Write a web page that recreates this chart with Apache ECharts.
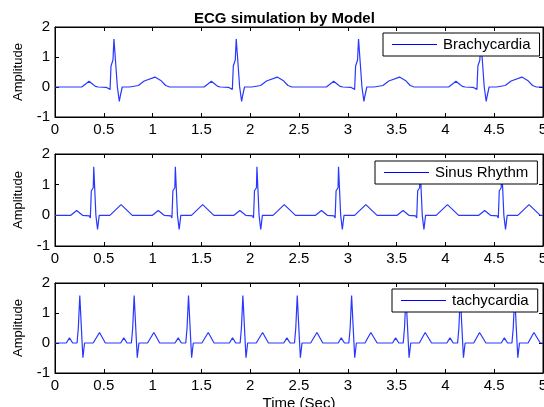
<!DOCTYPE html>
<html>
<head>
<meta charset="utf-8">
<script src="https://cdn.jsdelivr.net/npm/echarts@6/dist/echarts.min.js"></script>
<style>
html,body{margin:0;padding:0;background:#fff;}
#chart{width:544px;height:407px;}
</style>
</head>
<body>
<div id="chart"></div>
<script>
// ---- Data: [time (s), amplitude] ----
var chartTitle = 'ECG simulation by Model';
var seriesNames = ['Brachycardia', 'Sinus Rhythm', 'tachycardia'];
var xLabelName = 'Time (Sec)';
var yLabelName = 'Amplitude';
var xRange = [0, 5];
var xStep = 0.5;
var yRange = [-1, 2];
var yStep = 1;

var brachyData = [
  [0,0],
  [0.274,0],[0.314,0.10],[0.349,0.19],[0.384,0.10],[0.414,0.02],[0.444,0],[0.524,-0.01],[0.544,0.03],[0.564,-0.08],
  [0.574,0.7],[0.594,0.9],[0.604,1.6],[0.619,1.6],[0.639,0],[0.659,-0.48],[0.669,-0.3],[0.689,0],[0.764,0],
  [0.854,0.05],[0.914,0.2],[1.024,0.33],[1.084,0.22],[1.134,0.05],[1.174,0],
  [1.527,0],[1.567,0.10],[1.602,0.19],[1.637,0.10],[1.667,0.02],[1.697,0],[1.777,-0.01],[1.797,0.03],[1.817,-0.08],
  [1.827,0.7],[1.847,0.9],[1.857,1.6],[1.872,1.6],[1.892,0],[1.912,-0.48],[1.922,-0.3],[1.942,0],[2.017,0],
  [2.107,0.05],[2.167,0.2],[2.277,0.33],[2.337,0.22],[2.387,0.05],[2.427,0],
  [2.78,0],[2.82,0.10],[2.855,0.19],[2.89,0.10],[2.92,0.02],[2.95,0],[3.03,-0.01],[3.05,0.03],[3.07,-0.08],
  [3.08,0.7],[3.10,0.9],[3.11,1.6],[3.125,1.6],[3.145,0],[3.165,-0.48],[3.175,-0.3],[3.195,0],[3.27,0],
  [3.36,0.05],[3.42,0.2],[3.53,0.33],[3.59,0.22],[3.64,0.05],[3.68,0],
  [4.033,0],[4.073,0.10],[4.108,0.19],[4.143,0.10],[4.173,0.02],[4.203,0],[4.283,-0.01],[4.303,0.03],[4.323,-0.08],
  [4.333,0.7],[4.353,0.9],[4.363,1.6],[4.378,1.6],[4.398,0],[4.418,-0.48],[4.428,-0.3],[4.448,0],[4.523,0],
  [4.613,0.05],[4.673,0.2],[4.783,0.33],[4.843,0.22],[4.893,0.05],[4.933,0],
  [5,0]
];

var sinusData = [
  [0,0],
  [0.162,0],[0.222,0.16],[0.282,0],[0.292,-0.02],[0.352,-0.02],[0.362,-0.09],[0.372,0.8],[0.392,0.9],[0.397,1.58],[0.407,1.58],
  [0.419,0],[0.436,-0.46],[0.453,0],[0.562,0],[0.677,0.35],[0.792,0],
  [0.998,0],[1.058,0.16],[1.118,0],[1.128,-0.02],[1.188,-0.02],[1.198,-0.09],[1.208,0.8],[1.228,0.9],[1.233,1.58],[1.243,1.58],
  [1.255,0],[1.272,-0.46],[1.289,0],[1.398,0],[1.513,0.35],[1.628,0],
  [1.834,0],[1.894,0.16],[1.954,0],[1.964,-0.02],[2.024,-0.02],[2.034,-0.09],[2.044,0.8],[2.064,0.9],[2.069,1.58],[2.079,1.58],
  [2.091,0],[2.108,-0.46],[2.125,0],[2.234,0],[2.349,0.35],[2.464,0],
  [2.67,0],[2.73,0.16],[2.79,0],[2.80,-0.02],[2.86,-0.02],[2.87,-0.09],[2.88,0.8],[2.90,0.9],[2.905,1.58],[2.915,1.58],
  [2.927,0],[2.944,-0.46],[2.961,0],[3.07,0],[3.185,0.35],[3.30,0],
  [3.506,0],[3.566,0.16],[3.626,0],[3.636,-0.02],[3.696,-0.02],[3.706,-0.09],[3.716,0.8],[3.736,0.9],[3.741,1.58],[3.751,1.58],
  [3.763,0],[3.78,-0.46],[3.797,0],[3.906,0],[4.021,0.35],[4.136,0],
  [4.342,0],[4.402,0.16],[4.462,0],[4.472,-0.02],[4.532,-0.02],[4.542,-0.09],[4.552,0.8],[4.572,0.9],[4.577,1.58],[4.587,1.58],
  [4.599,0],[4.616,-0.46],[4.633,0],[4.742,0],[4.857,0.35],[4.972,0],
  [5,0]
];

var tachyData = [
  [0,0],
  [0.116,0],[0.148,0.17],[0.181,0],[0.226,0],[0.233,-0.06],[0.239,0.5],[0.249,0.55],[0.254,1.58],[0.269,1.58],
  [0.278,0],[0.286,-0.49],[0.296,-0.2],[0.303,0],[0.391,0],[0.456,0.35],[0.516,0],
  [0.673,0],[0.705,0.17],[0.738,0],[0.783,0],[0.79,-0.06],[0.796,0.5],[0.806,0.55],[0.811,1.58],[0.826,1.58],
  [0.835,0],[0.843,-0.49],[0.853,-0.2],[0.86,0],[0.948,0],[1.013,0.35],[1.073,0],
  [1.23,0],[1.262,0.17],[1.295,0],[1.34,0],[1.347,-0.06],[1.353,0.5],[1.363,0.55],[1.368,1.58],[1.383,1.58],
  [1.392,0],[1.40,-0.49],[1.41,-0.2],[1.417,0],[1.505,0],[1.57,0.35],[1.63,0],
  [1.787,0],[1.819,0.17],[1.852,0],[1.897,0],[1.904,-0.06],[1.91,0.5],[1.92,0.55],[1.925,1.58],[1.94,1.58],
  [1.949,0],[1.957,-0.49],[1.967,-0.2],[1.974,0],[2.062,0],[2.127,0.35],[2.187,0],
  [2.344,0],[2.376,0.17],[2.409,0],[2.454,0],[2.461,-0.06],[2.467,0.5],[2.477,0.55],[2.482,1.58],[2.497,1.58],
  [2.506,0],[2.514,-0.49],[2.524,-0.2],[2.531,0],[2.619,0],[2.684,0.35],[2.744,0],
  [2.901,0],[2.933,0.17],[2.966,0],[3.011,0],[3.018,-0.06],[3.024,0.5],[3.034,0.55],[3.039,1.58],[3.054,1.58],
  [3.063,0],[3.071,-0.49],[3.081,-0.2],[3.088,0],[3.176,0],[3.236,0.35],[3.301,0],
  [3.458,0],[3.49,0.17],[3.523,0],[3.568,0],[3.575,-0.06],[3.581,0.5],[3.591,0.55],[3.596,1.58],[3.611,1.58],
  [3.62,0],[3.628,-0.49],[3.638,-0.2],[3.645,0],[3.733,0],[3.793,0.35],[3.858,0],
  [4.015,0],[4.047,0.17],[4.08,0],[4.125,0],[4.132,-0.06],[4.138,0.5],[4.148,0.55],[4.153,1.58],[4.168,1.58],
  [4.177,0],[4.185,-0.49],[4.195,-0.2],[4.202,0],[4.29,0],[4.35,0.35],[4.415,0],
  [4.572,0],[4.604,0.17],[4.637,0],[4.682,0],[4.689,-0.06],[4.695,0.5],[4.705,0.55],[4.71,1.58],[4.725,1.58],
  [4.734,0],[4.742,-0.49],[4.752,-0.2],[4.759,0],[4.847,0],[4.907,0.35],[4.972,0],
  [5,0]
];

var allData = [brachyData, sinusData, tachyData];

// ---- Layout / style ----
var FONT = "'Liberation Sans', Arial, Helvetica, sans-serif";
var BLUE = '#0000ff';
var LINE_BLUE = '#2838ff';
var grids = [
  {left: 55, right: 1, top: 27, height: 90},
  {left: 55, right: 1, top: 154, height: 92},
  {left: 55, right: 1, top: 283, height: 90}
];
var legendPos = [
  {left: 383, top: 33},
  {left: 375, top: 161},
  {left: 392, top: 289}
];

var chart = echarts.init(document.getElementById('chart'), null, {renderer: 'canvas'});

var xAxes = [], yAxes = [], series = [], legends = [];
for (var i = 0; i < 3; i++) {
  xAxes.push({
    gridIndex: i, type: 'value', min: xRange[0], max: xRange[1], interval: xStep,
    position: 'bottom',
    axisLine: {show: true, onZero: false, lineStyle: {color: '#000', width: 1}},
    axisTick: {show: true, inside: true, length: 4, lineStyle: {color: '#000'}},
    axisLabel: {show: true, margin: 5, color: '#000', fontSize: 15, fontFamily: FONT},
    splitLine: {show: false},
    name: i === 2 ? xLabelName : '',
    nameLocation: 'middle', nameGap: 23,
    nameTextStyle: {color: '#000', fontSize: 15, fontFamily: FONT}
  });
  yAxes.push({
    gridIndex: i, type: 'value', min: yRange[0], max: yRange[1], interval: yStep,
    position: 'left',
    axisLine: {show: true, onZero: false, lineStyle: {color: '#000', width: 1}},
    axisTick: {show: true, inside: true, length: 4, lineStyle: {color: '#000'}},
    axisLabel: {show: true, margin: 5, color: '#000', fontSize: 15, fontFamily: FONT},
    splitLine: {show: false},
    name: yLabelName, nameLocation: 'middle', nameGap: 30, nameRotate: 90,
    nameTextStyle: {color: '#000', fontSize: 13, fontFamily: FONT}
  });
}
for (var j = 0; j < 3; j++) {
  xAxes.push({
    gridIndex: j, type: 'value', min: xRange[0], max: xRange[1], interval: xStep,
    position: 'top',
    axisLine: {show: true, onZero: false, lineStyle: {color: '#000', width: 1}},
    axisTick: {show: true, inside: true, length: 4, lineStyle: {color: '#000'}},
    axisLabel: {show: false}, splitLine: {show: false}
  });
  yAxes.push({
    gridIndex: j, type: 'value', min: yRange[0], max: yRange[1], interval: yStep,
    position: 'right',
    axisLine: {show: true, onZero: false, lineStyle: {color: '#000', width: 1}},
    axisTick: {show: true, inside: true, length: 4, lineStyle: {color: '#000'}},
    axisLabel: {show: false}, splitLine: {show: false}
  });
}
for (var k = 0; k < 3; k++) {
  series.push({
    name: seriesNames[k], type: 'line', xAxisIndex: k, yAxisIndex: k,
    data: allData[k], showSymbol: false, symbol: 'none', smooth: false,
    itemStyle: {color: BLUE},
    lineStyle: {color: LINE_BLUE, width: 1.2},
    silent: true
  });
  legends.push({
    show: true, left: legendPos[k].left, top: legendPos[k].top,
    orient: 'horizontal',
    data: [{name: seriesNames[k], icon: 'rect', itemStyle: {color: BLUE}}],
    itemWidth: 45, itemHeight: 1, itemGap: 0,
    padding: [4, 9, 4, 9],
    backgroundColor: '#fff', borderColor: '#000', borderWidth: 1, borderRadius: 0,
    selectedMode: false,
    textStyle: {color: '#000', fontSize: 15, fontFamily: FONT, padding: [0, 0, 0, 1]}
  });
}

chart.setOption({
  animation: false,
  backgroundColor: '#fff',
  title: {
    text: chartTitle, left: 189, top: 6,
    textStyle: {color: '#000', fontSize: 15, fontWeight: 'bold', fontFamily: FONT}
  },
  grid: grids.map(function (g) {
    return {left: g.left, right: g.right, top: g.top, height: g.height,
      show: true, backgroundColor: '#fff', borderColor: '#000', borderWidth: 1,
      containLabel: false, outerBoundsMode: 'none'};
  }),
  legend: legends,
  xAxis: xAxes,
  yAxis: yAxes,
  series: series
});
</script>
</body>
</html>
